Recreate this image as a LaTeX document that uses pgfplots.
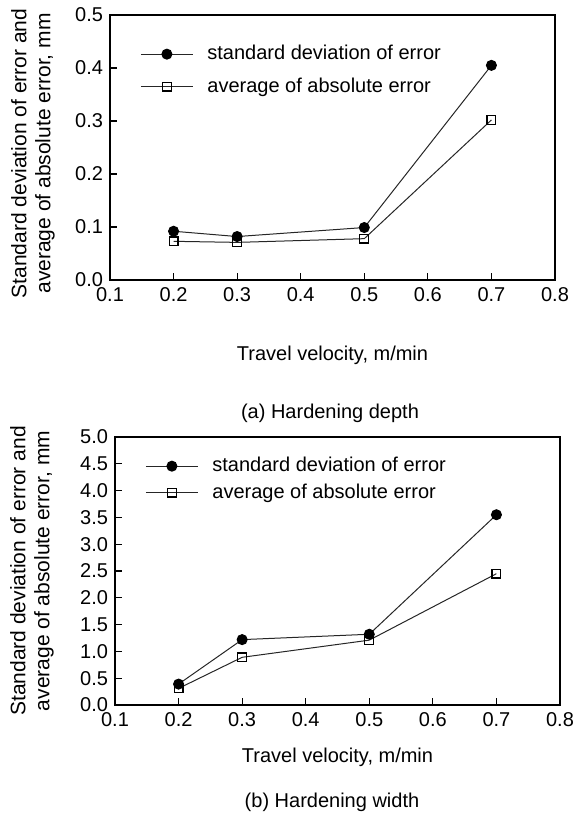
\documentclass[border=0pt]{standalone}
\usepackage{fontspec}
\setmainfont{Liberation Sans}
\usepackage{pgfplots}
\pgfplotsset{compat=1.18}

\pgfplotsset{
  errstyle/.style={
    scale only axis,
    width=222.5pt,
    xmin=0.1, xmax=0.8,
    xtick={0.1,0.2,...,0.8},
    tick align=inside,
    xtick pos=bottom, ytick pos=left,
    major tick length=3.5pt,
    axis line style={line width=0.6pt},
    tick style={line width=0.6pt, black},
    /pgf/number format/.cd, fixed, fixed zerofill, precision=1, assume math mode=true,
    /pgfplots/.cd,
    ticklabel style={font=\fontsize{10}{12}\selectfont},
    xlabel style={font=\fontsize{10}{12}\selectfont},
    ylabel={Standard deviation of error and\\average of absolute error, mm},
    ylabel style={font=\fontsize{10.5}{12}\selectfont, align=center,
                  at={(axis description cs:0,0.5)}, anchor=center},
    xlabel={Travel velocity, m/min},
    legend style={draw=none, fill=none, font=\fontsize{10}{12}\selectfont,
                  anchor=north west, cells={anchor=west},
                  /tikz/every odd column/.append style={column sep=5pt}},
    legend image code/.code={\draw[mark repeat=2,mark phase=2,#1]
      plot coordinates {(0pt,0pt)(13pt,0pt)(26pt,0pt)};},
  },
  sdline/.style={black!85, line width=0.5pt, mark=*, mark size=2.5pt,
                 mark options={fill=black, draw=black}},
  avline/.style={black!85, line width=0.5pt, mark=square, mark size=2.2pt,
                 mark options={fill=white, draw=black, line width=0.6pt}},
}

\begin{document}
\begin{tikzpicture}
\useasboundingbox (0,0) rectangle (288.5pt,-407pt);

% (a) hardening depth
\begin{axis}[errstyle,
  at={(55pt,-140pt)}, anchor=south west,
  height=132.5pt,
  ymin=0, ymax=0.5, ytick={0,0.1,...,0.5},
  ylabel style={yshift=38.5pt, xshift=-3pt},
  xlabel style={at={(axis description cs:0.5,0)}, anchor=center, yshift=-37.5pt},
  legend style={at={(axis description cs:0,1)}, xshift=12pt, yshift=-11pt,
                row sep=3.5pt},
]
\addplot[sdline] coordinates {(0.2,0.092) (0.3,0.082) (0.5,0.099) (0.7,0.405)};
\addplot[avline] coordinates {(0.2,0.073) (0.3,0.071) (0.5,0.078) (0.7,0.302)};
\legend{standard deviation of error, average of absolute error}
\end{axis}
\node[font=\fontsize{10}{12}\selectfont] at (165pt,-206.5pt) {(a) Hardening depth};

% (b) hardening width
\begin{axis}[errstyle,
  at={(57.5pt,-352.5pt)}, anchor=south west,
  height=134pt,
  ymin=0, ymax=5, ytick={0,0.5,...,5},
  ylabel style={yshift=41.5pt},
  xlabel style={at={(axis description cs:0.5,0)}, anchor=center, yshift=-26pt},
  legend style={at={(axis description cs:0,1)}, xshift=12pt, yshift=-6pt,
                row sep=0.5pt},
]
\addplot[sdline] coordinates {(0.2,0.39) (0.3,1.22) (0.5,1.32) (0.7,3.55)};
\addplot[avline] coordinates {(0.2,0.31) (0.3,0.89) (0.5,1.21) (0.7,2.45)};
\legend{standard deviation of error, average of absolute error}
\end{axis}
\node[font=\fontsize{10}{12}\selectfont] at (166pt,-401pt) {(b) Hardening width};
\end{tikzpicture}
\end{document}
